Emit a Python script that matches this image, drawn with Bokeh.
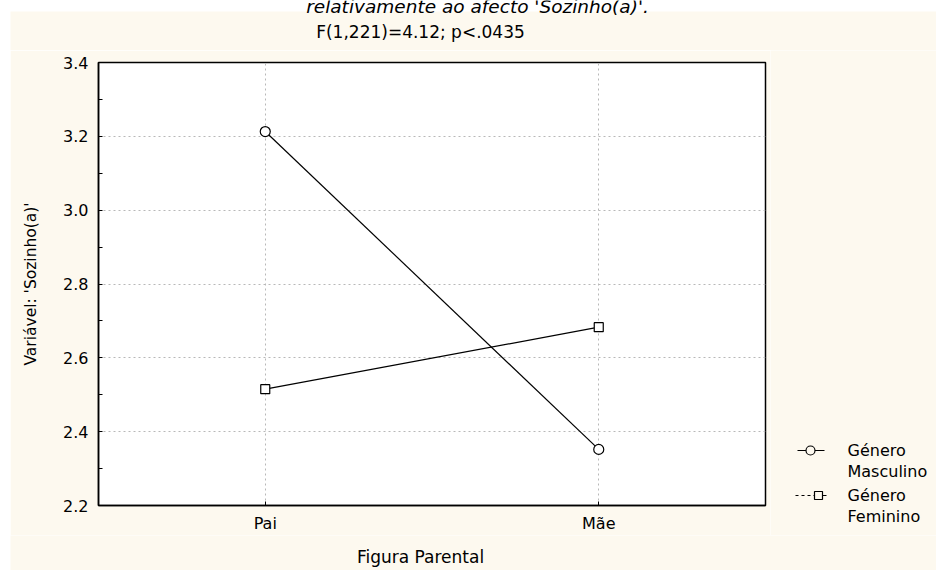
from bokeh.plotting import figure
from bokeh.layouts import column, row
from bokeh.models import (Range1d, FixedTicker, NumeralTickFormatter,
                          Spacer, ColumnDataSource)
from bokeh.core.properties import value
from bokeh.embed import file_html
from bokeh.resources import INLINE

# Interaction means: parental figure x gender
categories = ["Pai", "Mãe"]
masculino = [3.213, 2.352]
feminino = [2.515, 2.683]

legend_lines = [["Género", "Masculino"], ["Género", "Feminino"]]
y_ticks = [2.2, 2.4, 2.6, 2.8, 3.0, 3.2, 3.4]
y_minor = [2.3, 2.5, 2.7, 2.9, 3.1, 3.3]

title_text = "relativamente ao afecto 'Sozinho(a)'."
subtitle_text = "F(1,221)=4.12; p<.0435"
x_label = "Figura Parental"
y_label = "Variável: 'Sozinho(a)'"

FONT = "DejaVu Sans"
CREAM = "#FDF9EF"
GRID = "#b8b8b8"

x_pos = list(range(len(categories)))


def bare(fig, bg):
    fig.axis.visible = False
    fig.grid.visible = False
    fig.outline_line_color = None
    fig.background_fill_color = bg
    fig.border_fill_color = bg
    fig.frame_align = False
    return fig


# ---- header strip: cropped italic title line and the test statistic ----
top = bare(figure(width=936, height=50, x_range=Range1d(0, 936), y_range=Range1d(50, 0),
                  toolbar_location=None, output_backend="svg", min_border=0), "white")
top.quad(left=[10], right=[936], top=[11], bottom=[50], fill_color=CREAM, line_color=None)
top.text(x=[477], y=[6], text=[title_text], text_font=value(FONT),
         text_font_size="18.5px", text_font_style="italic", text_align="center",
         text_baseline="alphabetic", text_color="black")
top.text(x=[420], y=[31], text=[subtitle_text], text_font=value(FONT),
         text_font_size="17px", text_align="center", text_baseline="middle",
         text_color="black")

# ---- main interaction plot ----
p = figure(width=760, height=485, x_range=Range1d(-0.5, len(categories) - 0.5),
           y_range=Range1d(2.2, 3.4),
           toolbar_location=None, output_backend="svg",
           min_border_left=88, min_border_right=5, min_border_top=12, min_border_bottom=30)
p.background_fill_color = "white"
p.border_fill_color = CREAM
p.outline_line_color = "black"
p.outline_line_width = 1.5

p.xaxis.ticker = FixedTicker(ticks=x_pos, minor_ticks=[])
p.xaxis.major_label_overrides = {i: c for i, c in zip(x_pos, categories)}
p.yaxis.ticker = FixedTicker(ticks=y_ticks, minor_ticks=y_minor)
p.yaxis.formatter = NumeralTickFormatter(format="0.0")
for ax in (p.xaxis, p.yaxis):
    ax.axis_line_color = "black"
    ax.axis_line_width = 1.5
    ax.major_tick_in = 4
    ax.major_tick_out = 0
    ax.major_tick_line_color = "black"
    ax.major_label_text_font = FONT
    ax.major_label_text_font_size = "16px"
    ax.major_label_text_color = "black"
    ax.axis_label_text_font = FONT
    ax.axis_label_text_font_style = "normal"
    ax.axis_label_text_color = "black"
p.xaxis.minor_tick_in = 0
p.xaxis.minor_tick_out = 0
p.yaxis.minor_tick_in = 4
p.yaxis.minor_tick_out = 0
p.yaxis.minor_tick_line_color = "black"
p.yaxis.major_label_standoff = 10
p.yaxis.axis_label = y_label
p.yaxis.axis_label_text_font_size = "15.5px"
p.yaxis.axis_label_standoff = 20
p.xaxis.major_label_standoff = 8

p.grid.grid_line_color = GRID
p.grid.grid_line_dash = "2 3"
p.grid.grid_line_width = 1

src = ColumnDataSource(dict(x=x_pos, m=masculino, f=feminino))
p.line("x", "m", source=src, line_color="black", line_width=1.2)
p.line("x", "f", source=src, line_color="black", line_width=1.2)
p.scatter("x", "m", source=src, marker="circle", size=10, fill_color="white",
          line_color="black", line_width=1.2)
p.scatter("x", "f", source=src, marker="square", size=9, fill_color="white",
          line_color="black", line_width=1.2)

# ---- key panel to the right of the plot (pixel coordinates of the page) ----
leg = bare(figure(width=166, height=485, x_range=Range1d(770, 936), y_range=Range1d(535, 50),
                  toolbar_location=None, output_backend="svg", min_border=0), CREAM)
key_y = [450, 495]
leg.line(x=[797, 824], y=[key_y[0]] * 2, line_color="black", line_width=1.2)
leg.scatter(x=[810], y=[key_y[0]], marker="circle", size=9, fill_color=CREAM,
            line_color="black", line_width=1.2)
leg.line(x=[795, 814], y=[key_y[1]] * 2, line_color="black", line_width=1.2, line_dash="3 3")
leg.line(x=[814, 826], y=[key_y[1]] * 2, line_color="black", line_width=1.2)
leg.scatter(x=[818], y=[key_y[1]], marker="square", size=8, fill_color=CREAM,
            line_color="black", line_width=1.2)
key_text, key_text_y = [], []
for lines, y0 in zip(legend_lines, key_y):
    for k, part in enumerate(lines):
        key_text.append(part)
        key_text_y.append(y0 + k * 21)
leg.text(x=[847] * len(key_text), y=key_text_y, text=key_text, text_font=value(FONT),
         text_font_size="16px", text_align="left", text_baseline="middle",
         text_color="black")

# ---- footer strip with the x-axis title ----
bottom = bare(figure(width=926, height=35, x_range=Range1d(10, 936), y_range=Range1d(570, 535),
                     toolbar_location=None, output_backend="svg", min_border=0), CREAM)
bottom.text(x=[420], y=[556], text=[x_label], text_font=value(FONT),
            text_font_size="17px", text_align="center", text_baseline="middle",
            text_color="black")

layout = column(top,
                row(Spacer(width=10, height=485), p, leg),
                row(Spacer(width=10, height=35), bottom))

open("out.html", "w").write(file_html(layout, INLINE))
